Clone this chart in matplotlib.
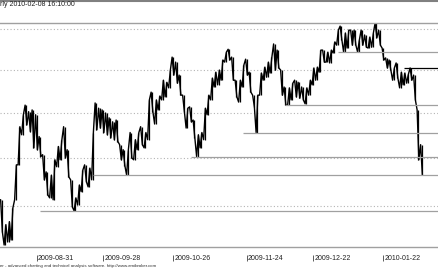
import matplotlib
matplotlib.use('Agg')
import matplotlib.pyplot as plt
from matplotlib.ticker import NullLocator
import numpy as np
import pandas as pd

plt.rcParams['font.family'] = ['Liberation Sans', 'DejaVu Sans']

# trading days on the chart
holidays = ['2009-09-07', '2009-11-26', '2009-12-25', '2010-01-01', '2010-01-18']
days = pd.bdate_range('2009-08-14', '2010-02-08')
days = days[~days.isin(pd.to_datetime(holidays))]

# daily range
high = [20.62, 20.12, 19.61, 19.67, 19.95, 20.86, 21.70, 21.97, 22.19, 22.04,
        22.08, 21.97, 21.48, 21.08, 20.71, 20.64, 20.97, 21.26, 21.41, 21.70,
        21.19, 20.54, 20.16, 20.43, 20.75, 20.86, 20.79, 21.57, 22.24, 22.12,
        22.08, 22.01, 21.90, 21.81, 21.85, 21.30, 21.19, 21.19, 21.57, 21.41,
        21.57, 21.70, 21.57, 22.31, 22.49, 22.31, 22.40, 22.77, 22.72, 23.01,
        23.32, 23.20, 22.89, 22.42, 22.12, 22.15, 21.85, 21.52, 21.57, 22.12,
        22.42, 22.82, 22.96, 23.01, 23.25, 23.44, 23.51, 23.32, 22.77, 22.77,
        23.13, 23.27, 22.96, 22.42, 22.42, 22.94, 23.08, 23.20, 23.32, 23.64,
        23.49, 23.01, 22.61, 22.59, 22.70, 22.77, 22.72, 22.61, 22.59, 22.77,
        23.06, 23.08, 23.49, 23.49, 23.44, 23.49, 23.69, 23.98, 24.08, 23.91,
        23.98, 23.98, 23.98, 23.74, 23.98, 23.86, 23.81, 23.91, 24.16, 23.98,
        23.54, 23.30, 23.25, 23.06, 23.18, 22.96, 22.94, 22.91, 23.06, 22.89,
        22.08, 21.30]
low = [20.12, 19.46, 19.20, 19.26, 19.30, 20.12, 20.86, 21.52, 21.74, 21.59,
       21.23, 21.19, 21.04, 20.54, 20.22, 20.16, 20.12, 20.82, 20.97, 21.01,
       20.60, 19.97, 19.89, 20.01, 20.29, 20.50, 20.39, 20.54, 21.63, 21.67,
       21.57, 21.52, 21.45, 21.41, 21.37, 20.97, 20.84, 20.64, 21.01, 20.97,
       21.19, 21.30, 21.23, 21.41, 22.04, 21.76, 22.08, 22.31, 22.38, 22.59,
       22.89, 22.70, 22.42, 22.04, 21.67, 21.81, 21.45, 21.04, 21.23, 21.41,
       21.97, 22.31, 22.61, 22.66, 22.77, 23.20, 23.25, 22.77, 22.38, 22.26,
       22.61, 22.89, 22.49, 22.15, 21.57, 22.42, 22.77, 22.84, 22.94, 23.01,
       23.06, 22.42, 22.19, 22.19, 22.31, 22.38, 22.35, 22.31, 22.22, 22.42,
       22.66, 22.77, 22.96, 23.20, 23.20, 23.18, 23.42, 23.61, 23.74, 23.44,
       23.54, 23.61, 23.61, 23.44, 23.61, 23.56, 23.54, 23.56, 23.79, 23.61,
       23.25, 23.06, 23.01, 22.77, 22.82, 22.59, 22.66, 22.70, 22.77, 22.31,
       20.97, 20.64]

# support / resistance studies
levels = [23.45, 23.06, 22.19, 21.55, 21.04, 20.64, 19.88]
level_from = ['2010-01-04', '2010-02-01', '2009-12-10', '2009-11-23',
              '2009-11-02', '2009-09-23', '2009-09-01']
level_color = ['#a0a0a0', 'black', '#a0a0a0', '#a0a0a0', '#a0a0a0', '#a0a0a0', '#a0a0a0']

grid_levels = [20, 21, 22, 23, 24]
tick_dates = ['2009-08-31', '2009-09-28', '2009-10-26', '2009-11-24', '2009-12-22', '2010-01-22']

x = np.arange(len(days))
x0, x1 = 0.57, 126.0
hi = np.array(high)
lo = np.array(low)
mid = (hi + lo) / 2

fig = plt.figure(figsize=(4.39, 2.68), dpi=100)
ax = fig.add_axes([0, 0.0802, 1, 0.8358])

# day ranges plus a zigzag joining them, like packed hourly bars
ax.vlines(x, lo, hi, color='black', lw=0.9)
px, py = [], []
for i in range(len(x)):
    up = i + 1 < len(x) and mid[i + 1] > mid[i]
    a, b = (lo[i], hi[i]) if up else (hi[i], lo[i])
    px += [x[i] - 0.25, x[i] + 0.25]
    py += [a, b]
ax.plot(px, py, color='black', lw=1.0)

for lev, start, c in zip(levels, level_from, level_color):
    i0 = days.get_loc(pd.Timestamp(start))
    ax.hlines(lev, i0, x1 + 5, color=c, lw=0.9)

ax.set_yscale('log')
ax.set_ylim(19.17, 24.17)
ax.set_xlim(x0, x1)
ax.set_yticks(grid_levels)
ax.yaxis.set_minor_locator(NullLocator())
ax.tick_params(axis='y', length=0, labelleft=False)
ax.grid(axis='y', ls=(0, (1, 2)), color='#b4b4b4', lw=0.8)

# date axis: small bar then label
tick_idx = [days.get_loc(pd.Timestamp(d)) for d in tick_dates]
ax.set_xticks([])
trans = ax.get_xaxis_transform()
ax.vlines(tick_idx, -0.065, -0.038, transform=trans, clip_on=False, lw=0.6, color='#404040')
for i, d in zip(tick_idx, tick_dates):
    ax.text(i + 0.4, -0.052, d, transform=trans, fontsize=5, ha='left', va='center', color='#202020')

for s in ['left', 'right']:
    ax.spines[s].set_visible(False)
for s in ['top', 'bottom']:
    ax.spines[s].set_color('#a0a0a0')
    ax.spines[s].set_linewidth(1.0)

fig.add_artist(plt.Line2D([0, 1], [0.997, 0.997], transform=fig.transFigure, color='#808080', lw=1.5))
fig.text(0.0, 0.983, 'rly 2010-02-08 16:10:00', fontsize=5, ha='left', va='center', color='#202020')
fig.text(0.0, 0.009, 'er - advanced charting and technical analysis software. http://www.amibroker.com',
         fontsize=3.2, ha='left', va='center', color='#303030')

fig.savefig('out.png', dpi=100)
